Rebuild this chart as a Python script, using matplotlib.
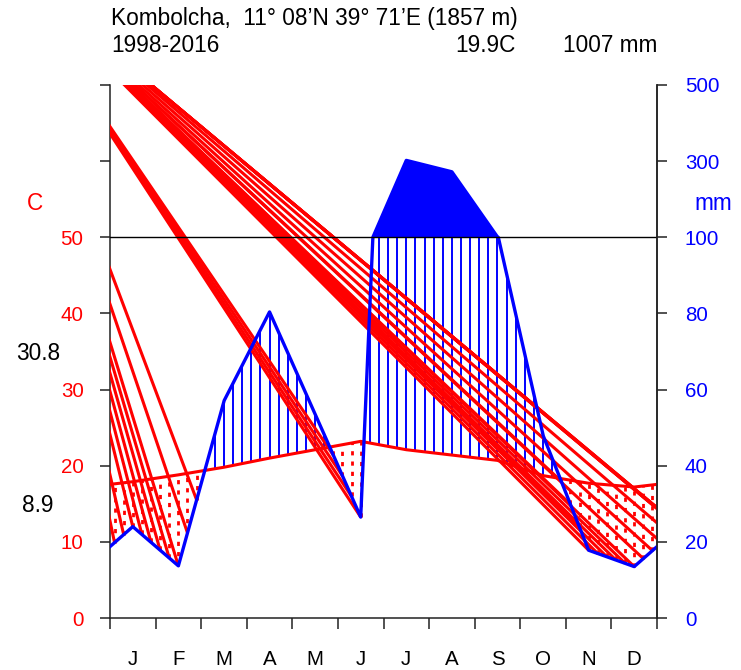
"""Walter-Lieth style climate diagram for Kombolcha (1998-2016)."""

import numpy as np
import matplotlib

matplotlib.use("Agg")  # headless backend
import matplotlib.pyplot as plt  # noqa: E402

plt.rcParams["font.family"] = ["Liberation Sans", "DejaVu Sans"]

station = "Kombolcha,  11° 08’N 39° 71’E (1857 m)"
period = "1998-2016"
mean_temp_label = "19.9C"
total_prec_label = "1007 mm"
abs_max_label = "30.8"
abs_min_label = "8.9"

months = ["J", "F", "M", "A", "M", "J", "J", "A", "S", "O", "N", "D"]
temp = [17.9, 18.8, 19.8, 21.0, 22.1, 23.2, 22.1, 21.4, 20.7, 18.7, 17.7, 17.2]
prec = [24.0, 13.7, 57.0, 80.4, 53.6, 26.5, 302.0, 272.0, 101.0, 48.0, 17.8, 13.5]

left_ticks = [0, 10, 20, 30, 40, 50, 60, 70]
left_labels = ["0", "10", "20", "30", "40", "50", "", ""]
right_labels = ["0", "20", "40", "60", "80", "100", "300", "500"]

RED = "#ff0000"
BLUE = "#0000ff"
HATCH_STEP = 0.2          # months between hatch lines
HATCH_END = 13.6          # hatch lines are laid out past December
RAY_ORIGIN = (-2.63, 87.7)
BIG = 16.3
SMALL = 14.8


def prec_scale(p):
    """mm -> temperature units: 2 mm per degree up to 100 mm, 20 mm above."""
    p = np.asarray(p, dtype=float)
    return np.where(p > 100, 50 + (p - 100) / 20.0, p / 2.0)


def prec_at(x):
    # interpolate in mm first, then rescale, so the 100 mm break stays sharp
    return prec_scale(np.interp(x, mid, prec, period=12))


mid = np.arange(12) + 0.5
t_arr = np.asarray(temp)

x_line = np.concatenate([[0.0], mid, [12.0]])
t_line = np.interp(x_line, mid, t_arr, period=12)
xf = np.linspace(0, 12, 2401)
pf = prec_at(xf)

fig = plt.figure(figsize=(7.41, 6.70), dpi=100)
ax = fig.add_axes([110 / 741, 52 / 670, 547 / 741, 533 / 670])
ax.set_xlim(0, 12)
ax.set_ylim(0, 70)

# hatch lines: dotted red where dry, solid blue where wet
hx = np.arange(0.1, HATCH_END, HATCH_STEP)
ht = np.interp(hx, mid, t_arr, period=12)
hp = prec_at(hx)
dry = ht > hp
inside = hx < 12
wet = ~dry & inside

ax.vlines(hx[wet], ht[wet], np.minimum(hp[wet], 50), color=BLUE, lw=1.4, zorder=2)
ax.vlines(hx[dry & inside], hp[dry & inside], ht[dry & inside],
          color=RED, lw=2.0, linestyles=[(0, (1.5, 2.2))], zorder=2)

for x, y in zip(hx[dry], hp[dry]):
    ax.plot([RAY_ORIGIN[0], x], [RAY_ORIGIN[1], y], color=RED, lw=2.2,
            solid_capstyle="butt", zorder=3)

# precipitation above 100 mm filled solid
ax.fill_between(xf, 50, pf, where=pf > 50, interpolate=True, color=BLUE,
                lw=0, zorder=4)

ax.plot(x_line, t_line, color=RED, lw=2.2, zorder=5)
ax.plot(xf, pf, color=BLUE, lw=2.4, zorder=6)
ax.axhline(50, color="black", lw=1.0, zorder=6)

ax.spines["top"].set_visible(False)
for s in ["left", "right", "bottom"]:
    ax.spines[s].set_color("#222222")
    ax.spines[s].set_linewidth(1.1)

ax.set_yticks(left_ticks)
ax.set_yticklabels(left_labels, fontsize=SMALL)
ax.tick_params(axis="y", direction="out", length=7, width=1.1, pad=12,
               colors="#222222", labelcolor=RED)

ax.set_xticks(range(13))
ax.set_xticklabels([])
ax.set_xticks(mid, minor=True)
ax.set_xticklabels(months, minor=True, fontsize=SMALL)
ax.tick_params(axis="x", which="major", direction="out", length=8, width=1.1,
               colors="#222222")
ax.tick_params(axis="x", which="minor", length=0, pad=23)

ax2 = ax.twinx()
ax2.set_ylim(0, 70)
ax2.set_yticks(left_ticks)
ax2.set_yticklabels(right_labels, fontsize=SMALL)
ax2.tick_params(axis="y", direction="out", length=7, width=1.1, pad=13,
                colors="#222222", labelcolor=BLUE)
for s in ["top", "left", "bottom"]:
    ax2.spines[s].set_visible(False)
ax2.spines["right"].set_color("#222222")
ax2.spines["right"].set_linewidth(1.1)

ax.text(-1.65, 54.5, "C", color=RED, fontsize=BIG, ha="center", va="center")
ax.text(13.23, 54.5, "mm", color=BLUE, fontsize=BIG, ha="center", va="center",
        clip_on=False)
ax.text(-1.58, 34.8, abs_max_label, fontsize=BIG, ha="center", va="center")
ax.text(-1.58, 14.8, abs_min_label, fontsize=BIG, ha="center", va="center")

fig.text(111 / 741, 1 - 18 / 670, station, fontsize=BIG, va="center")
fig.text(111 / 741, 1 - 45 / 670, period, fontsize=BIG, va="center")
fig.text(516 / 741, 1 - 45 / 670, mean_temp_label, fontsize=BIG, va="center",
         ha="right")
fig.text(657 / 741, 1 - 45 / 670, total_prec_label, fontsize=BIG, va="center",
         ha="right")

fig.savefig("out.png", dpi=100)
